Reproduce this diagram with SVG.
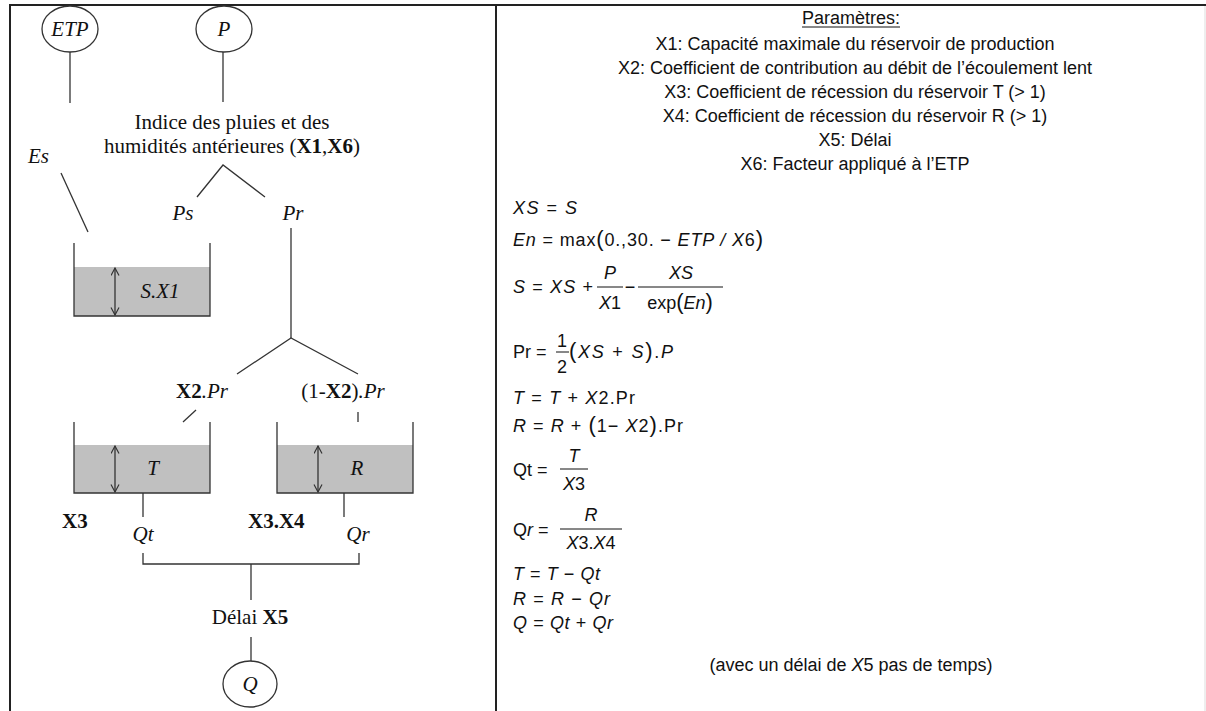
<svg xmlns="http://www.w3.org/2000/svg" width="1206" height="711" viewBox="0 0 1206 711">
<style>
.frame{stroke:#222;stroke-width:2;fill:none}
.ln{stroke:#333;stroke-width:1.3;fill:none}
.node{fill:#fff;stroke:#333;stroke-width:1.3}
.water{fill:#c0c0c0;stroke:none}
.tx{font-family:"Liberation Serif","Times New Roman",serif;font-size:21px;fill:#111}
.it{font-style:italic}
.bd{font-weight:bold}
.sx{font-family:"Liberation Sans",Arial,sans-serif;font-size:18px;fill:#111}
.mi{font-style:italic}
.big{font-size:22px}
.bar{stroke:#111;stroke-width:1}
</style>
<defs>
<marker id="ah" markerWidth="10" markerHeight="10" refX="8" refY="4.5" orient="auto-start-reverse" markerUnits="userSpaceOnUse">
<path d="M0.5,0.5 L8,4.5 L0.5,8.5" fill="none" stroke="#333" stroke-width="1.2"/>
</marker>
</defs>
<rect width="1206" height="711" fill="#fff"/>
<g id="frame">
<line class="frame" x1="10" y1="5" x2="1206" y2="5"/>
<line class="frame" x1="10" y1="4" x2="10" y2="711"/>
<line class="frame" x1="496" y1="4" x2="496" y2="711"/>
<line x1="1205" y1="6" x2="1205" y2="711" stroke="#ddd" stroke-width="1"/>
</g>
<g id="connectors">
<line class="ln" x1="70" y1="52" x2="70" y2="103"/>
<line class="ln" x1="223" y1="52" x2="223" y2="102"/>
<line class="ln" x1="61" y1="173" x2="88" y2="232"/>
<polyline class="ln" points="197,197 223,165 265,197"/>
<line class="ln" x1="291" y1="228" x2="291" y2="338"/>
<polyline class="ln" points="237,374 291,338 358,374"/>
<line class="ln" x1="196" y1="410" x2="183" y2="422"/>
<line class="ln" x1="358" y1="412" x2="358" y2="422"/>
<line class="ln" x1="143" y1="493" x2="143" y2="517"/>
<line class="ln" x1="344" y1="493" x2="344" y2="517"/>
<polyline class="ln" points="143,553 143,564 359,564 359,553"/>
<line class="ln" x1="251" y1="564" x2="251" y2="600"/>
<line class="ln" x1="251" y1="637" x2="251" y2="661"/>
</g>
<g id="node-etp">
<ellipse class="node" cx="70" cy="29" rx="28" ry="23"/>
<text class="tx it" x="70" y="36" text-anchor="middle">ETP</text>
</g>
<g id="node-p">
<ellipse class="node" cx="224" cy="29" rx="28" ry="23"/>
<text class="tx it" x="224" y="36" text-anchor="middle">P</text>
</g>
<g id="node-indice">
<text class="tx" x="232" y="129" text-anchor="middle">Indice des pluies et des</text>
<text class="tx" x="232" y="153" text-anchor="middle">humidités antérieures (<tspan class="bd">X1</tspan>,<tspan class="bd">X6</tspan>)</text>
</g>
<g id="label-es"><text class="tx it" x="28" y="163">Es</text></g>
<g id="label-ps"><text class="tx it" x="183" y="220" text-anchor="middle">Ps</text></g>
<g id="label-pr"><text class="tx it" x="293" y="220" text-anchor="middle">Pr</text></g>
<g id="node-sx1">
<rect class="water" x="74" y="267" width="136" height="49"/>
<polyline class="ln" points="74,243 74,316 210,316 210,243"/>
<line class="ln" x1="115" y1="268" x2="115" y2="315" marker-start="url(#ah)" marker-end="url(#ah)"/>
<text class="tx it" x="160" y="298" text-anchor="middle">S.X1</text>
</g>
<g id="label-x2pr"><text class="tx" x="202" y="398" text-anchor="middle"><tspan class="bd">X2</tspan><tspan class="it">.Pr</tspan></text></g>
<g id="label-1x2pr"><text class="tx" x="343" y="398" text-anchor="middle">(1-<tspan class="bd">X2</tspan>)<tspan class="it">.Pr</tspan></text></g>
<g id="node-t">
<rect class="water" x="74" y="445" width="136" height="48"/>
<polyline class="ln" points="74,422 74,493 210,493 210,422"/>
<line class="ln" x1="115" y1="446" x2="115" y2="492" marker-start="url(#ah)" marker-end="url(#ah)"/>
<text class="tx it" x="153" y="475" text-anchor="middle">T</text>
</g>
<g id="node-r">
<rect class="water" x="277" y="445" width="136" height="48"/>
<polyline class="ln" points="277,422 277,493 413,493 413,422"/>
<line class="ln" x1="318" y1="446" x2="318" y2="492" marker-start="url(#ah)" marker-end="url(#ah)"/>
<text class="tx it" x="357" y="475" text-anchor="middle">R</text>
</g>
<g id="label-x3"><text class="tx bd" x="62" y="528">X3</text></g>
<g id="label-qt"><text class="tx it" x="143" y="541" text-anchor="middle">Qt</text></g>
<g id="label-x3x4"><text class="tx bd" x="248" y="528">X3.X4</text></g>
<g id="label-qr"><text class="tx it" x="358" y="541" text-anchor="middle">Qr</text></g>
<g id="label-delai"><text class="tx" x="250" y="624" text-anchor="middle">Délai <tspan class="bd">X5</tspan></text></g>
<g id="node-q">
<ellipse class="node" cx="250" cy="684" rx="27" ry="23"/>
<text class="tx it" x="250" y="691" text-anchor="middle">Q</text>
</g>
<g id="parameters" class="sx" text-anchor="middle">
<text x="851" y="24">Paramètres:</text>
<line x1="802" y1="27" x2="900" y2="27" stroke="#111" stroke-width="1"/>
<text x="855" y="50">X1: Capacité maximale du réservoir de production</text>
<text x="855" y="74">X2: Coefficient de contribution au débit de l’écoulement lent</text>
<text x="855" y="98">X3: Coefficient de récession du réservoir T (&gt; 1)</text>
<text x="855" y="122">X4: Coefficient de récession du réservoir R (&gt; 1)</text>
<text x="855" y="146">X5: Délai</text>
<text x="855" y="170">X6: Facteur appliqué à l’ETP</text>
</g>
<g id="equations" class="sx">
<text x="513" y="214" textLength="64" lengthAdjust="spacing"><tspan class="mi">XS</tspan> = <tspan class="mi">S</tspan></text>
<text x="513" y="246" textLength="250" lengthAdjust="spacing"><tspan class="mi">En</tspan> = max<tspan class="big">(</tspan>0.,30. − <tspan class="mi">ETP / X</tspan>6<tspan class="big">)</tspan></text>
<text x="513" y="293" textLength="80" lengthAdjust="spacing"><tspan class="mi">S</tspan> = <tspan class="mi">XS</tspan> +</text>
<text x="610" y="279" text-anchor="middle" class="mi">P</text>
<line class="bar" x1="597" y1="287" x2="623" y2="287"/>
<text x="610" y="309" text-anchor="middle"><tspan class="mi">X</tspan>1</text>
<text x="630" y="293" text-anchor="middle">−</text>
<text x="681" y="279" text-anchor="middle" class="mi">XS</text>
<line class="bar" x1="638" y1="287" x2="723" y2="287"/>
<text x="680" y="309" text-anchor="middle">exp<tspan class="big">(</tspan><tspan class="mi">En</tspan><tspan class="big">)</tspan></text>
<text x="513" y="358">Pr =</text>
<text x="562" y="347" text-anchor="middle">1</text>
<line class="bar" x1="556" y1="352" x2="569" y2="352"/>
<text x="562" y="373" text-anchor="middle">2</text>
<text x="569" y="358" textLength="104" lengthAdjust="spacing"><tspan class="big">(</tspan><tspan class="mi">XS</tspan> + <tspan class="mi">S</tspan><tspan class="big">)</tspan>.<tspan class="mi">P</tspan></text>
<text x="513" y="404" textLength="122" lengthAdjust="spacing"><tspan class="mi">T</tspan> = <tspan class="mi">T</tspan> + <tspan class="mi">X</tspan>2.Pr</text>
<text x="513" y="432" textLength="170" lengthAdjust="spacing"><tspan class="mi">R</tspan> = <tspan class="mi">R</tspan> + <tspan class="big">(</tspan>1− <tspan class="mi">X</tspan>2<tspan class="big">)</tspan>.Pr</text>
<text x="513" y="476">Qt =</text>
<text x="574" y="462" text-anchor="middle" class="mi">T</text>
<line class="bar" x1="560" y1="469" x2="588" y2="469"/>
<text x="574" y="490" text-anchor="middle"><tspan class="mi">X</tspan>3</text>
<text x="513" y="536">Q<tspan class="mi">r</tspan> =</text>
<text x="591" y="521" text-anchor="middle" class="mi">R</text>
<line class="bar" x1="560" y1="529" x2="622" y2="529"/>
<text x="591" y="549" text-anchor="middle"><tspan class="mi">X</tspan>3.<tspan class="mi">X</tspan>4</text>
<text x="513" y="580" textLength="87" lengthAdjust="spacing"><tspan class="mi">T</tspan> = <tspan class="mi">T</tspan> − <tspan class="mi">Qt</tspan></text>
<text x="513" y="605" textLength="97" lengthAdjust="spacing"><tspan class="mi">R</tspan> = <tspan class="mi">R</tspan> − <tspan class="mi">Qr</tspan></text>
<text x="513" y="629" textLength="100" lengthAdjust="spacing"><tspan class="mi">Q</tspan> = <tspan class="mi">Qt</tspan> + <tspan class="mi">Qr</tspan></text>
<text x="851" y="671" text-anchor="middle">(avec un délai de <tspan class="mi">X</tspan>5 pas de temps)</text>
</g>
</svg>
